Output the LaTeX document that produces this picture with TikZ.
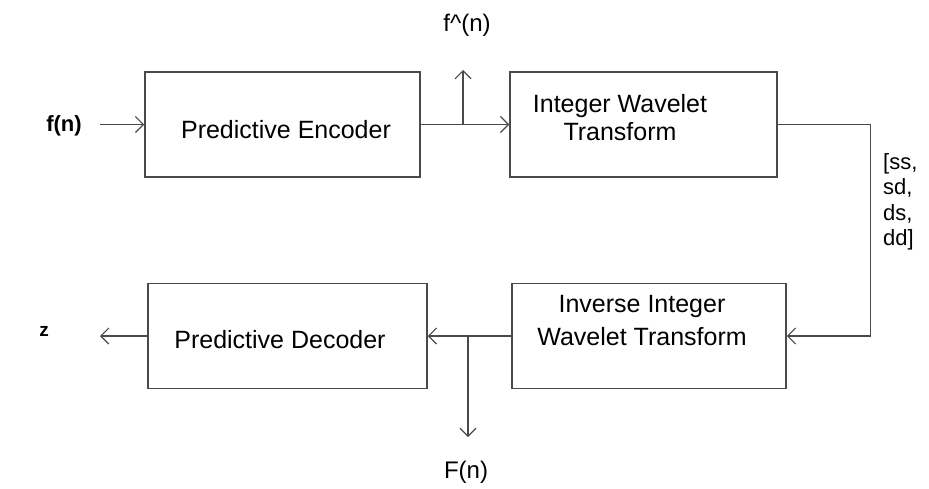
\documentclass[tikz,border=0pt]{standalone}
\usepackage{fontspec}
\setmainfont{Liberation Sans}
\usetikzlibrary{arrows.meta, positioning}
\definecolor{LineGray}{HTML}{4A4A4A}

\begin{document}
\begin{tikzpicture}[x=1pt, y=-1pt,
    block/.style={draw=LineGray, line width=1.5pt, minimum height=105pt, inner sep=0pt},
    flow/.style={draw=LineGray, line width=1.2pt, -{Straight Barb[length=8pt, width=16pt]}},
    txt/.style={font=\fontsize{25}{28}\selectfont, align=center, inner sep=0pt},
    io/.style={font=\bfseries\fontsize{22}{26}\selectfont, inner sep=0pt}]
    \useasboundingbox (0,0) rectangle (929,488);

    % Blocks
    \node[block, minimum width=275pt] (enc) at (282.5,124.5) {};
    \node[block, minimum width=267pt] (iwt) at (643.5,124.5) {};
    \node[block, minimum width=279pt] (dec) at (287.5,336) {};
    \node[block, minimum width=274pt] (iiwt) at (649,336) {};

    % Block texts
    \node[txt] (enctxt) at (286,130) {Predictive Encoder};
    \node[txt] (iwttxt) at (620,118) {Integer Wavelet\\Transform};
    \node[txt, font=\fontsize{25}{33}\selectfont] (iiwttxt) at (642,321) {Inverse Integer\\Wavelet Transform};
    \node[txt] (dectxt) at (280,340) {Predictive Decoder};

    % Signal labels
    \node[io] (fin) at (64,126) {f(n)};
    \node[io, font=\bfseries\fontsize{19}{22}\selectfont] (zout) at (44,331) {z};
    \node[txt, font=\fontsize{24}{27}\selectfont] (fhat) at (467,25) {f\textasciicircum(n)};
    \node[txt, font=\fontsize{24}{27}\selectfont] (Fn) at (466,472) {F(n)};
    \node[txt, align=left, anchor=north west, font=\fontsize{22}{25.5}\selectfont] (coef) at (883,153) {[ss,\\sd,\\ds,\\dd]};

    % Free ends
    \coordinate (inpt) at (100,124.5);
    \coordinate (outpt) at (100,336);
    \coordinate (tapA) at (463,124.5);
    \coordinate (tapB) at (468,336);
    \coordinate (upend) at (463,70);
    \coordinate (downend) at (468,437);

    % Connectors
    \draw[flow] (inpt) -- (enc);
    \draw[flow] (enc) -- (iwt);
    \draw[flow] (tapA) -- (upend);
    \draw[flow] (iwt.east) -- ++(93,0) |- (iiwt.east);
    \draw[flow] (iiwt) -- (dec);
    \draw[flow] (tapB) -- (downend);
    \draw[flow] (dec) -- (outpt);
\end{tikzpicture}
\end{document}
